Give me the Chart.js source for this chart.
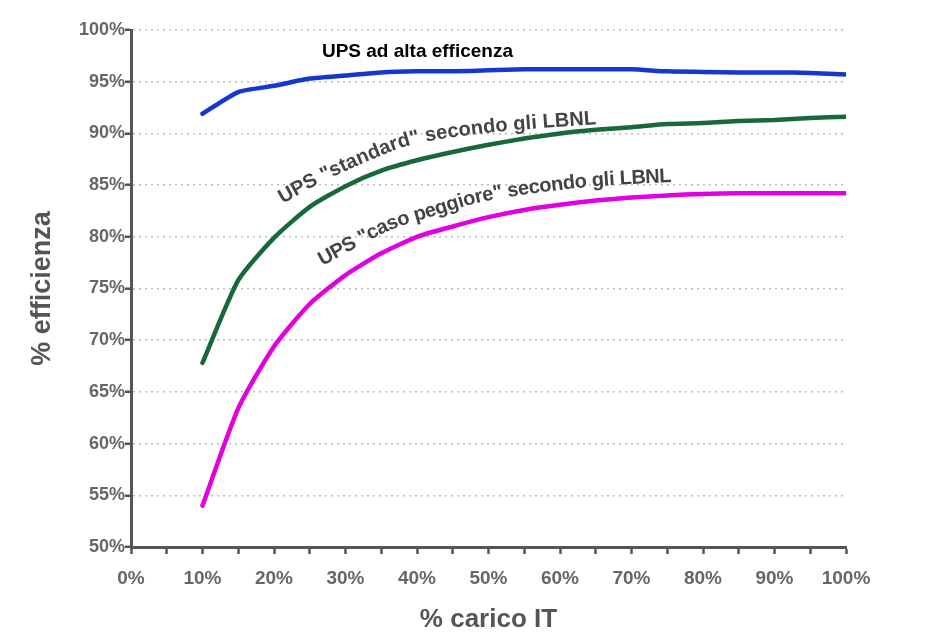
<!DOCTYPE html>
<html><head><meta charset="utf-8">
<script src="https://cdn.jsdelivr.net/npm/chart.js@4.4.0/dist/chart.umd.min.js"></script>
<style>html,body{margin:0;padding:0;background:#fff}</style>
</head><body>
<canvas id="c" width="925" height="643" style="display:block;width:925px;height:643px"></canvas>
<script>
// ---- data ----
const loadPct   = [10,15,20,25,30,35,40,45,50,55,60,65,70,75,80,85,90,95,100];
const highEff   = [91.9,94.0,94.6,95.3,95.6,95.9,96.0,96.0,96.1,96.2,96.2,96.2,96.2,96.0,95.95,95.9,95.9,95.85,95.7];
const standard  = [67.8,75.8,79.9,82.9,84.9,86.4,87.4,88.2,88.9,89.5,90.0,90.35,90.6,90.9,91.0,91.2,91.3,91.5,91.6];
const worstCase = [54.0,63.4,69.4,73.5,76.3,78.4,80.0,81.0,81.9,82.6,83.1,83.5,83.8,84.0,84.15,84.2,84.2,84.2,84.2];
const seriesNames = ['UPS ad alta efficenza','UPS "standard" secondo gli LBNL','UPS "caso peggiore" secondo gli LBNL'];
const xTitle = '% carico IT';
const yTitle = '% efficienza';
// label baselines (data coordinates)
const stdLabelX  = [21.2,26.8,33.4,40.4,52.0,65.1];
const stdLabelY  = [83.2,85.3,87.4,89.1,90.2,90.9];
const worstLabelX = [26.8,35.8,41.8,50.6,63.7,75.6];
const worstLabelY = [77.2,80.5,81.9,83.6,84.8,85.3];
const highLabelX = 26.7, highLabelY = 97.4;

const FONT = '"Liberation Sans", Arial, Helvetica, sans-serif';

function textOnPath(ctx, text, pts, color, font) {
  const dense = [];
  for (let i = 0; i < pts.length - 1; i++) {
    const p0 = pts[Math.max(i-1,0)], p1 = pts[i], p2 = pts[i+1], p3 = pts[Math.min(i+2,pts.length-1)];
    for (let k = 0; k < 20; k++) {
      const t = k/20, t2 = t*t, t3 = t2*t;
      const f = (a,b,c,d) => 0.5*((2*b)+(-a+c)*t+(2*a-5*b+4*c-d)*t2+(-a+3*b-3*c+d)*t3);
      dense.push({x:f(p0.x,p1.x,p2.x,p3.x), y:f(p0.y,p1.y,p2.y,p3.y)});
    }
  }
  dense.push(pts[pts.length-1]);
  const cum = [0];
  for (let i = 1; i < dense.length; i++) cum.push(cum[i-1] + Math.hypot(dense[i].x-dense[i-1].x, dense[i].y-dense[i-1].y));
  const L = cum[cum.length-1];
  ctx.save();
  ctx.font = font; ctx.fillStyle = color; ctx.textAlign = 'center'; ctx.textBaseline = 'alphabetic';
  const total = ctx.measureText(text).width;
  const s = L / total;
  let d = 0;
  for (const ch of text) {
    const w = ctx.measureText(ch).width;
    const mid = (d + w/2) * s;
    let i = 1; while (i < cum.length-1 && cum[i] < mid) i++;
    const a = dense[i-1], b = dense[i];
    const r = (mid - cum[i-1]) / Math.max(cum[i]-cum[i-1], 1e-6);
    const px = a.x + (b.x-a.x)*r, py = a.y + (b.y-a.y)*r;
    const ang = Math.atan2(b.y-a.y, b.x-a.x);
    ctx.save(); ctx.translate(px, py); ctx.rotate(ang); ctx.fillText(ch, 0, 0); ctx.restore();
    d += w;
  }
  ctx.restore();
}

const labelPlugin = {
  id: 'labels',
  afterDatasetsDraw(chart) {
    const {ctx, scales:{x, y}} = chart;
    const toPx = (xs, ys) => xs.map((v,i) => ({x:x.getPixelForValue(v), y:y.getPixelForValue(ys[i])}));
    ctx.save();
    ctx.font = 'bold 19px ' + FONT; ctx.fillStyle = '#000'; ctx.textAlign = 'left'; ctx.textBaseline = 'alphabetic';
    ctx.fillText(seriesNames[0], x.getPixelForValue(highLabelX), y.getPixelForValue(highLabelY));
    ctx.restore();
    textOnPath(ctx, seriesNames[1], toPx(stdLabelX, stdLabelY), '#444', 'bold 20px ' + FONT);
    textOnPath(ctx, seriesNames[2], toPx(worstLabelX, worstLabelY), '#444', 'bold 20px ' + FONT);
  }
};

const mk = (label, data, color) => ({
  label, data: loadPct.map((x,i) => ({x, y: data[i]})),
  borderColor: color, backgroundColor: color, borderWidth: 4.5, pointRadius: 0,
  tension: 0.2, borderCapStyle: 'round', borderJoinStyle: 'round', fill: false
});

new Chart(document.getElementById('c'), {
  type: 'line',
  data: { datasets: [
    mk(seriesNames[0], highEff, '#1537cf'),
    mk(seriesNames[1], standard, '#18693a'),
    mk(seriesNames[2], worstCase, '#e000e0')
  ]},
  options: {
    responsive: false, animation: false,
    layout: { padding: { top: 30, right: 79, left: 0, bottom: 0 } },
    plugins: { legend: { display: false }, tooltip: { enabled: false } },
    scales: {
      x: {
        type: 'linear', min: 0, max: 100,
        afterFit: s => { s.height = 96; },
        ticks: { stepSize: 5, autoSkip: false, maxRotation: 0, padding: 13, color: '#666',
          font: { family: FONT, size: 19, weight: 'bold' },
          callback: v => (v % 10 === 0 ? v + '%' : '') },
        grid: { drawOnChartArea: false, drawTicks: true, tickLength: 7, tickColor: '#555', tickWidth: 2.5 },
        border: { display: true, color: '#555', width: 3 },
        title: { display: true, text: xTitle, color: '#555', padding: { top: 0, bottom: 8 },
          font: { family: FONT, size: 26, weight: 'bold' } }
      },
      y: {
        min: 50, max: 100,
        afterFit: s => { s.width = 131; },
        ticks: { stepSize: 5, padding: 0, color: '#666',
          font: { family: FONT, size: 18, weight: 'bold' },
          callback: v => v + '%' },
        grid: { drawOnChartArea: true, color: '#bbb', lineWidth: 1.5, drawTicks: true, tickLength: 6, tickColor: '#555', tickWidth: 2.5 },
        border: { display: true, color: '#555', width: 3, dash: [2, 4] },
        title: { display: true, text: yTitle, color: '#555', padding: { top: 26, bottom: 0 },
          font: { family: FONT, size: 27, weight: 'bold' } }
      }
    }
  },
  plugins: [labelPlugin]
});
</script>
</body></html>
